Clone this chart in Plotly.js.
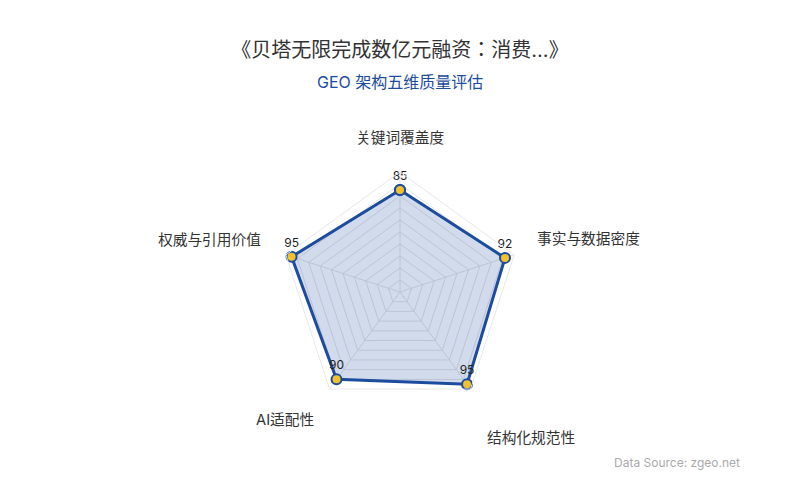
<!DOCTYPE html>
<html>
<head>
<meta charset="utf-8">
<script src="https://cdn.plot.ly/plotly-3.0.1.min.js"></script>
<style>
  html, body { margin: 0; padding: 0; background: #fff; }
  #chart { width: 800px; height: 500px; }
</style>
</head>
<body>
<div id="chart"></div>
<script>
// five GEO quality dimensions, clockwise from the top
const dimensions = ['关键词覆盖度', '事实与数据密度', '结构化规范性', 'AI适配性', '权威与引用价值'];
const scores = [85, 92, 95, 90, 95];

const titleText = '《贝塔无限完成数亿元融资：消费...》';
const subtitleText = 'GEO 架构五维质量评估';
const sourceText = 'Data Source: zgeo.net';

const FONT = 'Inter, "Noto Sans CJK JP", "Noto Sans CJK SC", sans-serif';
const BLUE = '#1c4c9e';

// close the polygon
const r = scores.concat(scores[0]);
const theta = dimensions.concat(dimensions[0]);
const labels = scores.map(String).concat('');

const trace = {
    type: 'scatterpolar',
    r: r,
    theta: theta,
    mode: 'lines+markers+text',
    text: labels,
    textposition: 'top center',
    textfont: {family: FONT, size: 12, color: '#222'},
    fill: 'toself',
    fillcolor: 'rgba(28,76,158,0.2)',
    line: {color: BLUE, width: 3},
    marker: {size: 10, color: '#f2c12e', line: {color: BLUE, width: 2}},
    hoverinfo: 'skip',
    cliponaxis: false
};

// axis names sit well outside the web, placed by hand
const namePos = [[400, 138], [588, 239], [531, 438], [285, 420], [209, 240]];
const annotations = dimensions.map((d, i) => ({
    text: d,
    xref: 'paper', yref: 'paper',
    x: namePos[i][0] / 800, y: 1 - namePos[i][1] / 500,
    xanchor: 'center', yanchor: 'middle',
    showarrow: false,
    font: {family: FONT, size: 14.7, color: '#333'}
}));
annotations.push({
    text: subtitleText, xref: 'paper', yref: 'paper',
    x: 0.5, y: 1 - 82 / 500, xanchor: 'center', yanchor: 'middle',
    showarrow: false, font: {family: FONT, size: 16, color: BLUE}
});
annotations.push({
    text: sourceText, xref: 'paper', yref: 'paper',
    x: 742 / 800, y: 1 - 462 / 500, xanchor: 'right', yanchor: 'middle',
    showarrow: false, font: {family: FONT, size: 12, color: '#aaa'}
});

const layout = {
    width: 800, height: 500,
    margin: {l: 0, r: 0, t: 0, b: 0},
    paper_bgcolor: '#fff',
    showlegend: false,
    font: {family: FONT},
    title: {
        text: titleText,
        x: 0.5, xanchor: 'center',
        y: 1 - 50 / 500, yanchor: 'middle',
        font: {family: FONT, size: 20, color: '#333'}
    },
    polar: {
        domain: {x: [0.35, 0.65], y: [0.176, 0.656]},
        bgcolor: 'rgba(0,0,0,0)',
        gridshape: 'linear',
        radialaxis: {
            range: [0, 100], dtick: 10,
            showticklabels: false, ticks: '',
            showline: false,
            gridcolor: '#e4e4e4', gridwidth: 1
        },
        angularaxis: {
            rotation: 90, direction: 'clockwise',
            showticklabels: false, ticks: '',
            linecolor: '#e8e8e8', linewidth: 1,
            gridcolor: '#e4e4e4'
        }
    },
    annotations: annotations
};

Plotly.newPlot('chart', [trace], layout, {displayModeBar: false, staticPlot: true});
</script>
</body>
</html>
